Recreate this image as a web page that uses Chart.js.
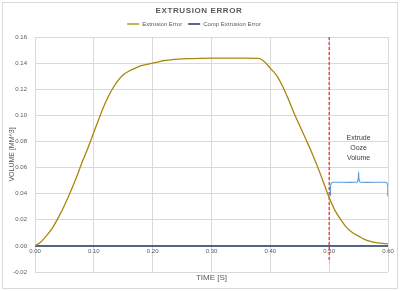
<!DOCTYPE html>
<html>
<head>
<meta charset="utf-8">
<script src="https://cdn.jsdelivr.net/npm/chart.js@4.4.0/dist/chart.umd.min.js"></script>
<style>
  html, body { margin: 0; padding: 0; background: #fff; }
  #wrap { width: 400px; height: 291px; }
</style>
</head>
<body>
<div id="wrap"><canvas id="chart"></canvas></div>
<script>
// ----- Data -----
const timeValues = [0.00,0.01,0.02,0.03,0.04,0.05,0.06,0.07,0.08,0.09,0.10,0.11,0.12,0.13,0.14,0.15,0.16,0.17,0.18,0.19,0.20,
  0.21,0.22,0.23,0.24,0.25,0.26,0.28,0.30,0.32,0.34,0.36,0.38,0.39,0.40,0.41,0.42,0.43,0.44,0.45,0.46,0.47,0.48,0.49,0.50,
  0.51,0.52,0.53,0.54,0.55,0.56,0.57,0.58,0.59,0.60];
const extrusionError = [0.000,0.003,0.008,0.014,0.022,0.031,0.041,0.052,0.064,0.075,0.087,0.099,0.110,0.119,0.126,0.131,0.134,0.136,0.138,0.139,0.140,
  0.141,0.142,0.1425,0.143,0.1433,0.1435,0.1437,0.1438,0.1438,0.1438,0.1438,0.1436,0.141,0.136,0.131,0.123,0.113,0.102,0.092,0.082,0.072,0.061,0.049,0.037,
  0.027,0.020,0.014,0.010,0.0075,0.005,0.0035,0.0025,0.002,0.0015];
const compTime = [0.00, 0.60];
const compExtrusionError = [0, 0];
const markerTime = [0.50, 0.50];
const markerVolume = [0.16, -0.0125];
const braceTime = [0.5025,0.5025,0.5045,0.508,0.543,0.548,0.5495,0.550,0.5505,0.552,0.557,0.594,0.5975,0.5995,0.5995];
const braceVolume = [0.038,0.0465,0.0484,0.0487,0.0487,0.049,0.052,0.0565,0.052,0.049,0.0487,0.0487,0.0484,0.0465,0.038];
const braceLabel = ['Extrude', 'Ooze', 'Volume'];
const yTicks = { min: -0.02, max: 0.16, step: 0.02 };
const xTicks = { min: 0, max: 0.60, step: 0.10 };

const toPoints = (xs, ys) => xs.map((x, i) => ({ x: x, y: ys[i] }));

const textColor = '#595959';
const gridColor = '#d9d9d9';
const font = 'Liberation Sans';

// ----- Plugins -----
const frameAndTitle = {
  id: 'frameAndTitle',
  beforeDraw(chart) {
    const ctx = chart.ctx;
    ctx.save();
    ctx.strokeStyle = '#d9d9d9';
    ctx.lineWidth = 1;
    ctx.strokeRect(2.5, 2.5, 395, 286);
    ctx.restore();
  },
  afterDraw(chart) {
    const ctx = chart.ctx;
    ctx.save();
    ctx.fillStyle = textColor;
    ctx.font = 'bold 8px ' + font;
    ctx.letterSpacing = '0.6px';
    ctx.textAlign = 'center';
    ctx.textBaseline = 'middle';
    ctx.fillText('EXTRUSION ERROR', 199, 11);
    // brace note
    const x = chart.scales.x.getPixelForValue(0.55);
    const y = chart.scales.y.getPixelForValue(0.0565);
    ctx.letterSpacing = '0px';
    ctx.font = '7px ' + font;
    ctx.fillStyle = '#404040';
    braceLabel.forEach((t, i) => ctx.fillText(t, x, y - 34 + i * 10));
    ctx.restore();
  }
};

// ----- Chart -----
new Chart(document.getElementById('chart'), {
  type: 'line',
  data: {
    datasets: [
      { label: 'Extrusion Error', data: toPoints(timeValues, extrusionError), borderColor: '#a8870c', backgroundColor: '#b8960c',
        borderWidth: 1.3, pointRadius: 0, cubicInterpolationMode: 'monotone' },
      { label: 'Comp Extrusion Error', data: toPoints(compTime, compExtrusionError), borderColor: '#1f3864', backgroundColor: '#4a6088',
        borderWidth: 1.5, pointRadius: 0 },
      { label: 'marker', data: toPoints(markerTime, markerVolume), borderColor: '#e8262b', borderWidth: 1.2,
        borderDash: [3, 2], pointRadius: 0 },
      { label: 'brace', data: toPoints(braceTime, braceVolume), borderColor: '#5b9bd5', borderWidth: 1.1,
        pointRadius: 0, tension: 0.3 }
    ]
  },
  options: {
    responsive: true,
    maintainAspectRatio: false,
    animation: false,
    layout: { padding: { top: 15, right: 12, left: 0, bottom: 0 } },
    plugins: {
      legend: {
        position: 'top',
        labels: {
          filter: item => item.datasetIndex < 2,
          usePointStyle: true, pointStyle: 'line', pointStyleWidth: 12,
          boxHeight: 6, padding: 6,
          color: textColor, font: { family: font, size: 6 }
        }
      },
      tooltip: { enabled: false }
    },
    scales: {
      x: {
        type: 'linear', min: xTicks.min, max: xTicks.max,
        ticks: { display: false, stepSize: xTicks.step },
        grid: { color: gridColor, drawTicks: false },
        border: { display: false },
        title: { display: true, text: 'TIME [S]', color: textColor, font: { family: font, size: 8 }, padding: { top: 2, bottom: 8 } },
        afterFit: s => { s.height = 19; }
      },
      x2: {
        type: 'linear', axis: 'x', position: { y: 0 }, min: xTicks.min, max: xTicks.max,
        ticks: { stepSize: xTicks.step, padding: 2, color: textColor, font: { family: font, size: 6 }, callback: v => v.toFixed(2) },
        grid: { display: false, drawTicks: false },
        border: { display: false }
      },
      y: {
        min: yTicks.min, max: yTicks.max,
        ticks: { stepSize: yTicks.step, padding: 8, color: textColor, font: { family: font, size: 6 }, callback: v => v.toFixed(2) },
        grid: { color: gridColor, drawTicks: false },
        border: { display: false },
        title: { display: true, text: 'VOLUME [MM^3]', color: textColor, font: { family: font, size: 7 }, padding: { top: 8, bottom: 0 } },
        afterFit: s => { s.width = 35; }
      }
    }
  },
  plugins: [frameAndTitle]
});
</script>
</body>
</html>
